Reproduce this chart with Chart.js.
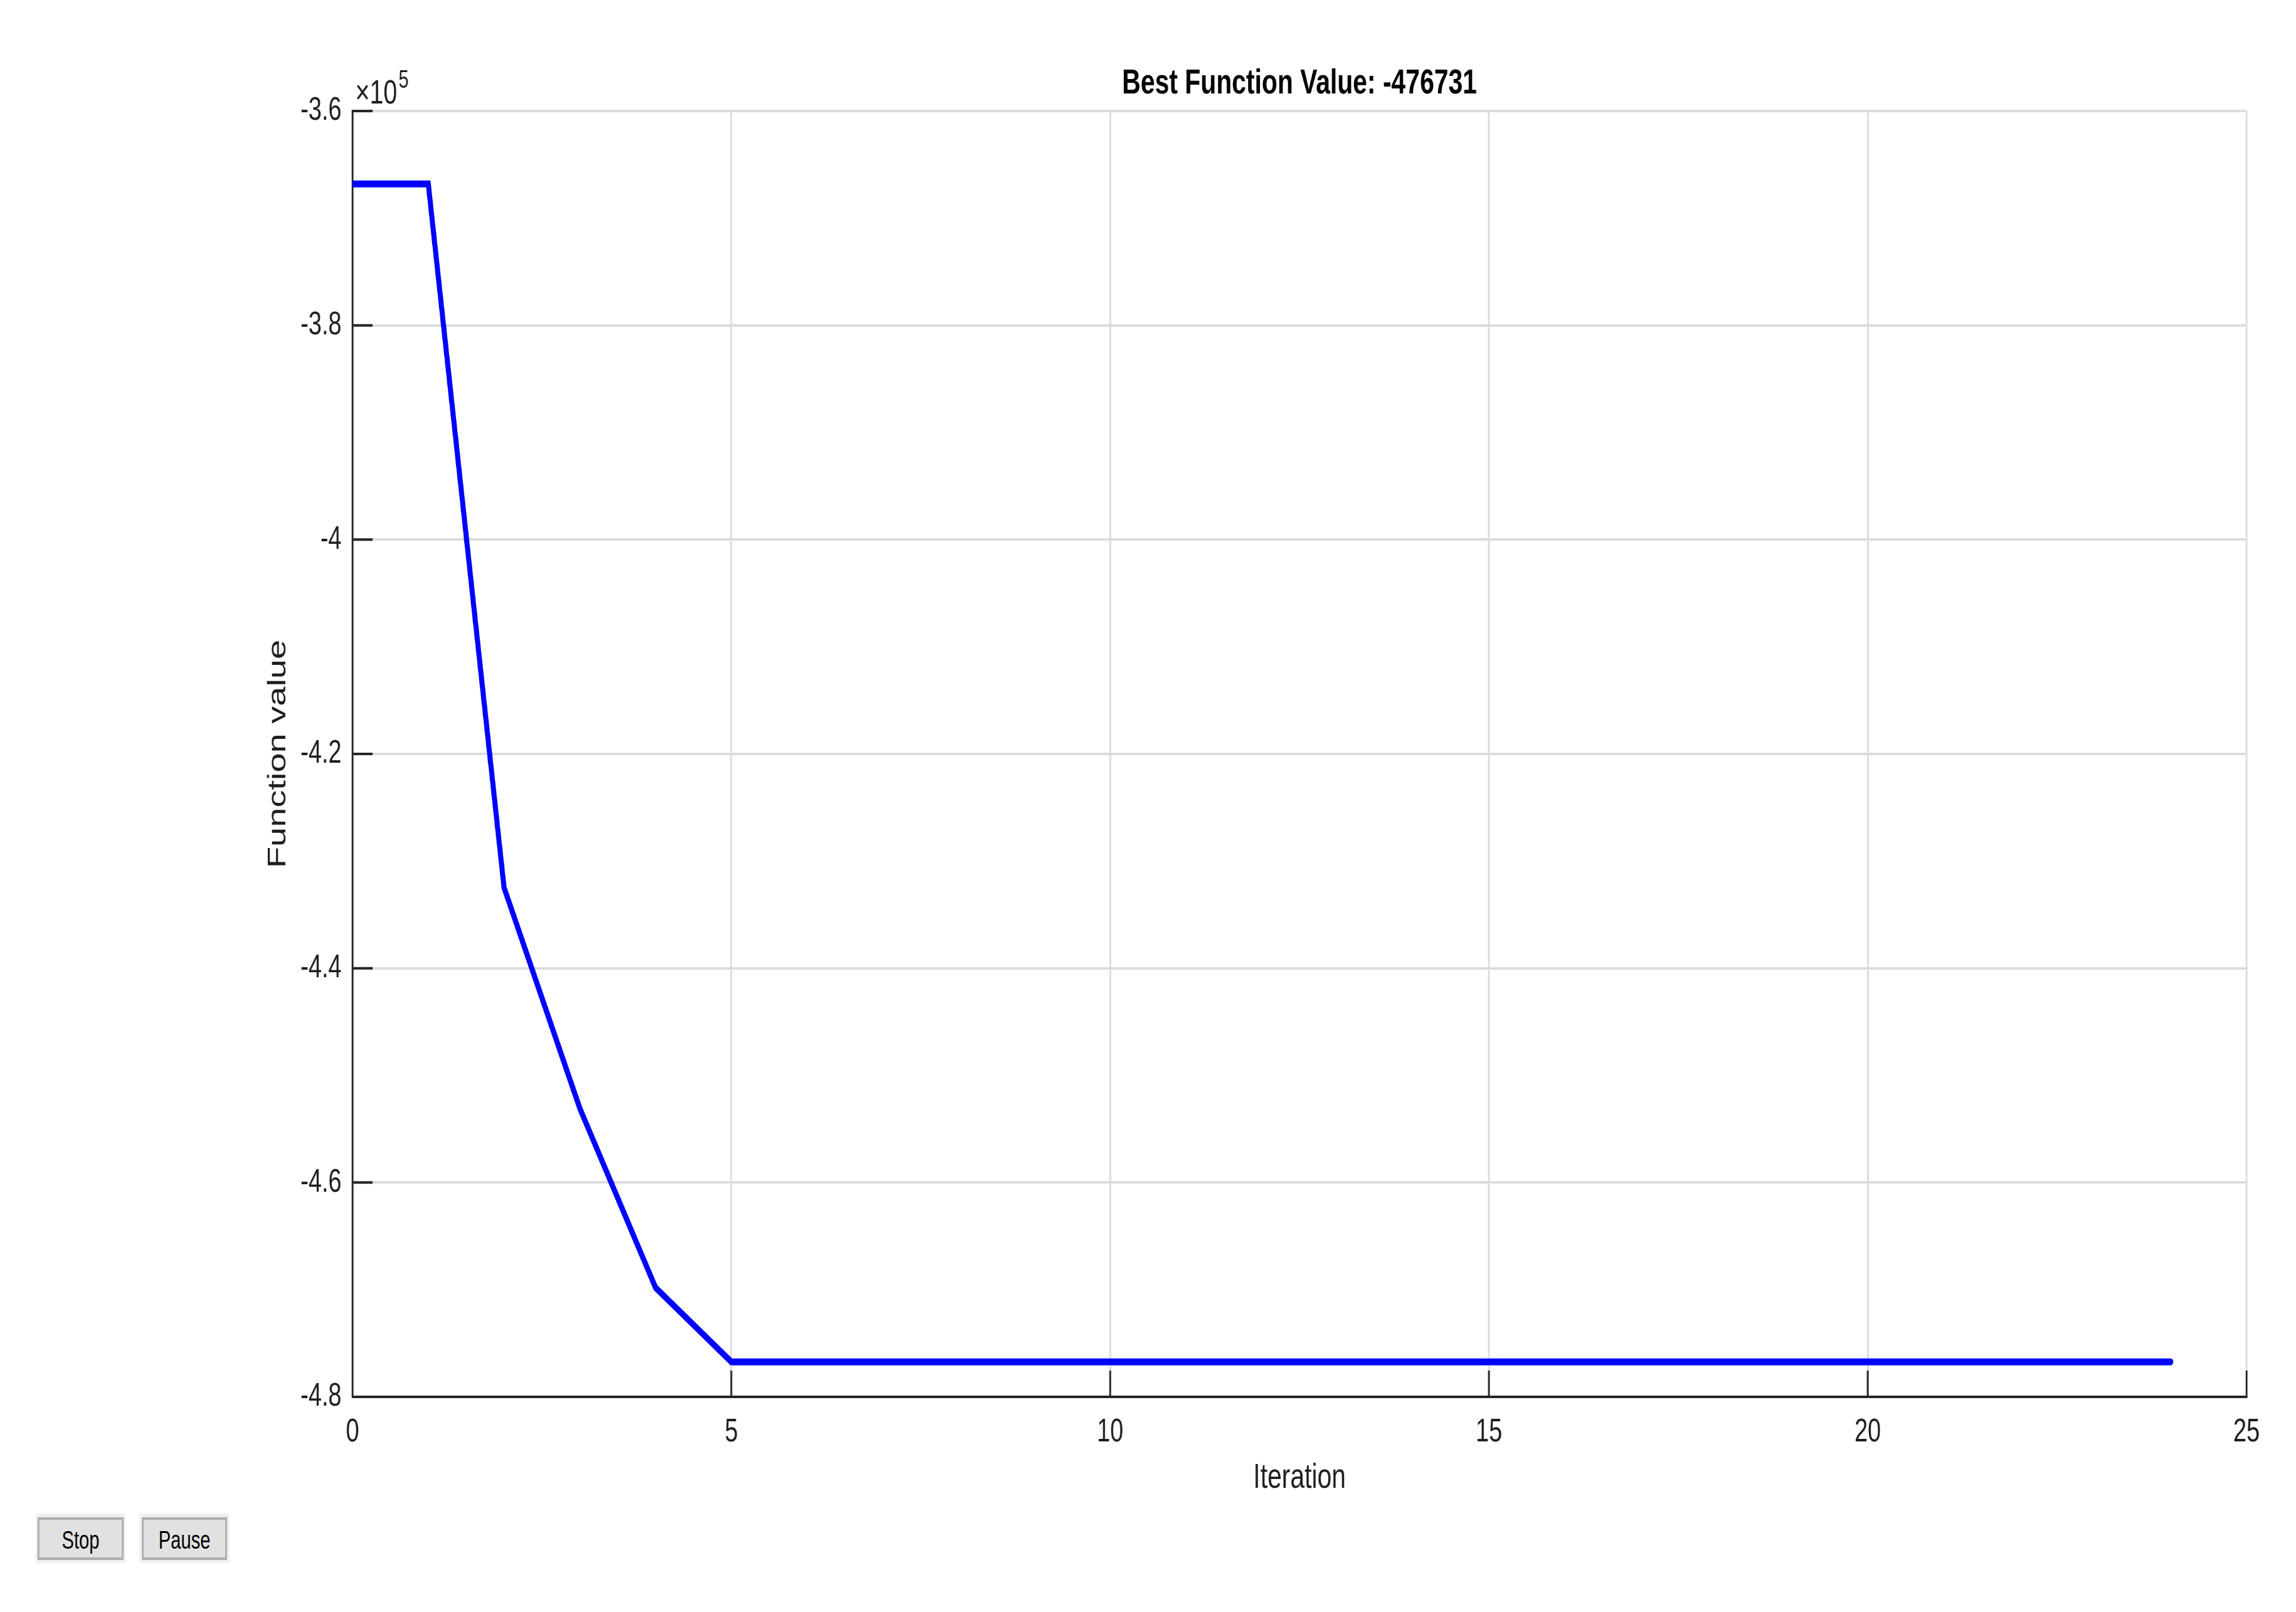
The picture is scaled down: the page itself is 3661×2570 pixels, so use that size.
<!DOCTYPE html>
<html>
<head>
<meta charset="utf-8">
<script src="https://cdn.jsdelivr.net/npm/chart.js@4.4.1/dist/chart.umd.min.js"></script>
<style>
  html, body { margin: 0; padding: 0; background: #ffffff; overflow: hidden; width: 3661px; height: 2570px; }
  #wrap { position: absolute; left: 0; top: 0; width: 5015px; height: 2570px; transform: scaleX(0.73); transform-origin: 0 0; }
  #c { position: absolute; left: 0; top: 0; width: 5015px; height: 2570px; }
  .frame { position: absolute; background: #f0f0f0; }
  .btn { position: absolute; box-sizing: border-box; background: #e1e1e1; border: 4px solid #adadad;
         font-family: 'Liberation Sans', Arial, Helvetica, sans-serif; font-size: 40px; color: #000;
         display: flex; align-items: center; justify-content: center; padding-top: 4px; }
</style>
</head>
<body>
<div id="wrap">
  <canvas id="c" width="5015" height="2570"></canvas>
  <div class="frame" style="left:78px; top:2413px; width:196px; height:79px;"></div>
  <div class="btn" style="left:82px; top:2419px; width:188px; height:68px;">Stop</div>
  <div class="frame" style="left:304px; top:2413px; width:197px; height:79px;"></div>
  <div class="btn" style="left:310px; top:2419px; width:186px; height:68px;">Pause</div>
</div>
<script>
// ---- data ----
const iterations = [0, 1, 2, 3, 4, 5, 6, 7, 8, 9, 10, 11, 12, 13, 14, 15, 16, 17, 18, 19, 20, 21, 22, 23, 24];
const functionValues = [-366800, -366800, -432470, -453070, -469810,
  -476731, -476731, -476731, -476731, -476731, -476731, -476731, -476731, -476731, -476731,
  -476731, -476731, -476731, -476731, -476731, -476731, -476731, -476731, -476731, -476731];
const titleText = 'Best Function Value: -476731';
const xAxisTitle = 'Iteration';
const yAxisTitle = 'Function value';
const xTickValues = [0, 5, 10, 15, 20, 25];
const yTickValues = [-480000, -460000, -440000, -420000, -400000, -380000, -360000];
const yExponent = 5;

const FONT = "'Liberation Sans', Arial, Helvetica, sans-serif";
const TEXT = '#1e1e1e';
const points = iterations.map((it, i) => ({ x: it, y: functionValues[i] }));

const extras = {
  id: 'extras',
  beforeDatasetsDraw(chart) {
    const { ctx, chartArea, scales: { x, y } } = chart;
    ctx.save();
    ctx.strokeStyle = '#262626';
    ctx.lineWidth = 4;
    ctx.beginPath();
    y.ticks.forEach(t => {
      const py = y.getPixelForValue(t.value);
      ctx.moveTo(chartArea.left, py);
      ctx.lineTo(chartArea.left + 44, py);
    });
    x.ticks.forEach(t => {
      const px = x.getPixelForValue(t.value);
      ctx.moveTo(px, chartArea.bottom);
      ctx.lineTo(px, chartArea.bottom - 42);
    });
    ctx.stroke();
    ctx.restore();
  },
  afterDraw(chart) {
    const { ctx, chartArea } = chart;
    ctx.save();
    ctx.fillStyle = TEXT;
    ctx.textBaseline = 'alphabetic';
    ctx.textAlign = 'left';
    ctx.font = '54px ' + FONT;
    const bx = chartArea.left + 6;
    const by = chartArea.top - 12;
    ctx.fillText('\u00d710', bx, by);
    const w = ctx.measureText('\u00d710').width;
    ctx.font = '40px ' + FONT;
    ctx.fillText(String(yExponent), bx + w + 3, by - 25);
    ctx.restore();
  }
};

new Chart(document.getElementById('c'), {
  type: 'line',
  data: {
    datasets: [{
      data: points,
      borderColor: '#0000ff',
      backgroundColor: '#0000ff',
      borderWidth: 11,
      borderCapStyle: 'round',
      pointRadius: 0,
      tension: 0,
      fill: false
    }]
  },
  options: {
    responsive: false,
    animation: false,
    devicePixelRatio: 1,
    layout: { padding: { left: 0, right: 108, top: 0, bottom: 0 } },
    plugins: {
      legend: { display: false },
      tooltip: { enabled: false },
      title: {
        display: true,
        text: titleText,
        fullSize: false,
        color: '#000000',
        font: { family: FONT, size: 56, weight: 'bold', lineHeight: 1.2 },
        padding: { top: 100, bottom: 9.8 }
      }
    },
    scales: {
      x: {
        type: 'linear',
        min: 0,
        max: 25,
        afterBuildTicks: (s) => { s.ticks = xTickValues.map(v => ({ value: v })); },
        afterFit: (s) => { s.height = 343; },
        ticks: {
          color: TEXT,
          font: { family: FONT, size: 52 },
          padding: 25,
          maxRotation: 0,
          callback: (v) => String(v)
        },
        grid: { color: '#dcdcdc', lineWidth: 4, drawTicks: false },
        border: { display: true, color: '#262626', width: 4 },
        title: {
          display: true,
          text: xAxisTitle,
          color: TEXT,
          font: { family: FONT, size: 56, lineHeight: 1.2 },
          padding: { top: 0, bottom: 180 }
        }
      },
      y: {
        type: 'linear',
        min: -480000,
        max: -360000,
        afterBuildTicks: (s) => { s.ticks = yTickValues.map(v => ({ value: v })); },
        afterFit: (s) => { s.width = 770; },
        ticks: {
          color: TEXT,
          font: { family: FONT, size: 52 },
          padding: 24,
          callback: (v) => String(+(v / Math.pow(10, yExponent)).toFixed(2))
        },
        grid: { color: '#dcdcdc', lineWidth: 4, drawTicks: false },
        border: { display: true, color: '#262626', width: 4 },
        title: {
          display: true,
          text: yAxisTitle,
          color: TEXT,
          font: { family: FONT, size: 56, lineHeight: 1.2 },
          padding: { top: 574, bottom: 0 }
        }
      }
    }
  },
  plugins: [extras]
});
</script>
</body>
</html>
